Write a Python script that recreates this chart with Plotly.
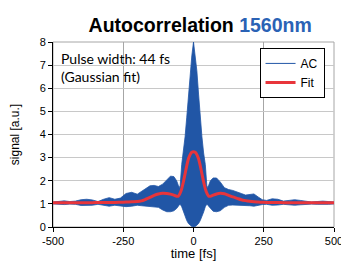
import plotly.graph_objects as go

# time axis [fs]
t = [-500, -480, -460, -440, -420, -400, -380, -360, -340, -320, -300, -280, -260, -240,
     -220, -200, -185, -170, -155, -140, -125, -110, -95, -82, -70, -60, -54, -48, -42,
     -36, -30, -24, -18, -12, -6, 0, 6, 12, 18, 24, 30, 36, 42, 48, 54, 60, 70, 82, 95,
     110, 125, 140, 155, 170, 185, 200, 215, 230, 245, 260, 280, 300, 320, 340, 360, 380,
     400, 420, 440, 460, 480, 500]

# AC (fringe-resolved) upper / lower envelope
ac_upper = [1.08, 1.12, 1.13, 1.10, 1.12, 1.18, 1.20, 1.17, 1.10, 1.20, 1.27, 1.20, 1.25, 1.45,
            1.50, 1.42, 1.55, 1.65, 1.78, 1.80, 1.75, 1.85, 2.05, 2.20, 2.18, 2.00, 1.80, 1.70, 2.70,
            3.20, 3.90, 4.75, 5.75, 6.75, 7.40, 8.00, 7.40, 6.75, 5.75, 4.75, 3.90, 3.20, 2.70, 1.70, 1.80,
            2.00, 2.12, 2.12, 1.95, 1.70, 1.62, 1.58, 1.50, 1.45, 1.38, 1.40, 1.43, 1.30, 1.18, 1.15,
            1.22, 1.20, 1.12, 1.15, 1.18, 1.15, 1.10, 1.08, 1.10, 1.12, 1.10, 1.08]
ac_lower = [1.00, 0.98, 0.97, 0.99, 0.98, 0.93, 0.92, 0.94, 0.98, 0.93, 0.90, 0.94, 0.92, 0.88,
            0.90, 0.94, 0.92, 0.90, 0.90, 0.88, 0.85, 0.74, 0.66, 0.66, 0.70, 0.80, 0.92, 1.00, 0.88,
            0.65, 0.45, 0.28, 0.15, 0.08, 0.02, 0.00, 0.02, 0.08, 0.15, 0.28, 0.45, 0.65, 0.88, 1.00, 0.90,
            0.80, 0.68, 0.66, 0.70, 0.85, 0.94, 0.95, 0.95, 0.94, 0.94, 0.92, 0.90, 0.94, 0.97, 0.98,
            0.94, 0.95, 0.98, 0.96, 0.94, 0.96, 0.98, 0.99, 0.98, 0.97, 0.98, 1.00]

# Gaussian fit curve
fit = [1.05, 1.05, 1.05, 1.05, 1.05, 1.05, 1.05, 1.05, 1.06, 1.06, 1.06, 1.06, 1.07, 1.08,
       1.09, 1.10, 1.13, 1.20, 1.28, 1.37, 1.43, 1.46, 1.45, 1.42, 1.38, 1.33, 1.33, 1.45, 1.65,
       1.95, 2.30, 2.65, 2.95, 3.13, 3.23, 3.25, 3.23, 3.13, 2.95, 2.65, 2.30, 1.95, 1.65, 1.45, 1.33,
       1.33, 1.38, 1.43, 1.46, 1.44, 1.37, 1.30, 1.24, 1.18, 1.14, 1.11, 1.09, 1.08, 1.07, 1.06,
       1.06, 1.06, 1.05, 1.05, 1.05, 1.05, 1.05, 1.05, 1.05, 1.05, 1.05, 1.05]

x_ticks = [-500, -250, 0, 250, 500]
y_ticks = [0, 1, 2, 3, 4, 5, 6, 7, 8]

BLUE = "#2156a6"
RED = "#e8353b"

fig = go.Figure()
fig.add_trace(go.Scatter(x=t, y=ac_lower, mode="lines", line=dict(color=BLUE, width=0.8),
                         showlegend=False, hoverinfo="skip"))
fig.add_trace(go.Scatter(x=t, y=ac_upper, mode="lines", line=dict(color=BLUE, width=0.8),
                         fill="tonexty", fillcolor=BLUE, showlegend=False, hoverinfo="skip"))
fig.add_trace(go.Scatter(x=[None], y=[None], mode="lines", name="AC", line=dict(color=BLUE, width=1)))
fig.add_trace(go.Scatter(x=t, y=fit, mode="lines", name="Fit", line=dict(color=RED, width=3, shape="spline", smoothing=0.8)))

fig.update_layout(
    width=341, height=261,
    margin=dict(l=53, r=7, t=42, b=34, autoexpand=False),
    paper_bgcolor="white", plot_bgcolor="white",
    font=dict(family="Liberation Sans, Arial, sans-serif", size=11, color="black"),
    title=dict(text="<b>Autocorrelation <span style='color:#2a62b5'>1560nm</span></b>",
               x=0.587, xanchor="center", y=0.905, yanchor="middle",
               font=dict(size=19.5, family="Liberation Sans, Arial, sans-serif", color="black")),
    showlegend=True,
    legend=dict(x=0.735, y=0.968, xanchor="left", yanchor="top", traceorder="normal",
                bordercolor="black", borderwidth=1, bgcolor="white",
                font=dict(size=12, family="Liberation Sans, Arial, sans-serif"),
                itemwidth=30, tracegroupgap=0),
    xaxis=dict(range=[-500, 500], tickvals=x_ticks, ticktext=[str(v) for v in x_ticks],
               automargin=False, ticklabeloverflow="allow",
               showgrid=True, gridcolor="#a6a6a6", gridwidth=1,
               showline=True, linecolor="black", linewidth=1,
               ticks="outside", ticklen=4, tickcolor="black", zeroline=False,
               title=dict(text="time [fs]", font=dict(size=13), standoff=0)),
    yaxis=dict(range=[0, 8], tickvals=y_ticks, automargin=False,
               showgrid=True, gridcolor="#c8c8c8", gridwidth=1,
               showline=True, linecolor="black", linewidth=1,
               ticks="outside", ticklen=4, tickcolor="black", zeroline=False,
               title=dict(text="signal [a.u.]", font=dict(size=12), standoff=17)),
    shapes=[dict(type="rect", xref="paper", yref="paper", x0=0, x1=1, y0=0, y1=1,
                 line=dict(color="#a6a6a6", width=1), layer="below")],
    annotations=[dict(text="Pulse width: 44 fs<br>(Gaussian fit)", xref="paper", yref="paper",
                      x=0.022, y=0.97, xanchor="left", yanchor="top", align="left", showarrow=False,
                      font=dict(size=14, family="Lato, Open Sans, sans-serif", color="black"))],
)

fig.write_html("out.html", config={"displayModeBar": False},
               post_script="document.body.style.margin='0';document.body.style.overflow='hidden';")
